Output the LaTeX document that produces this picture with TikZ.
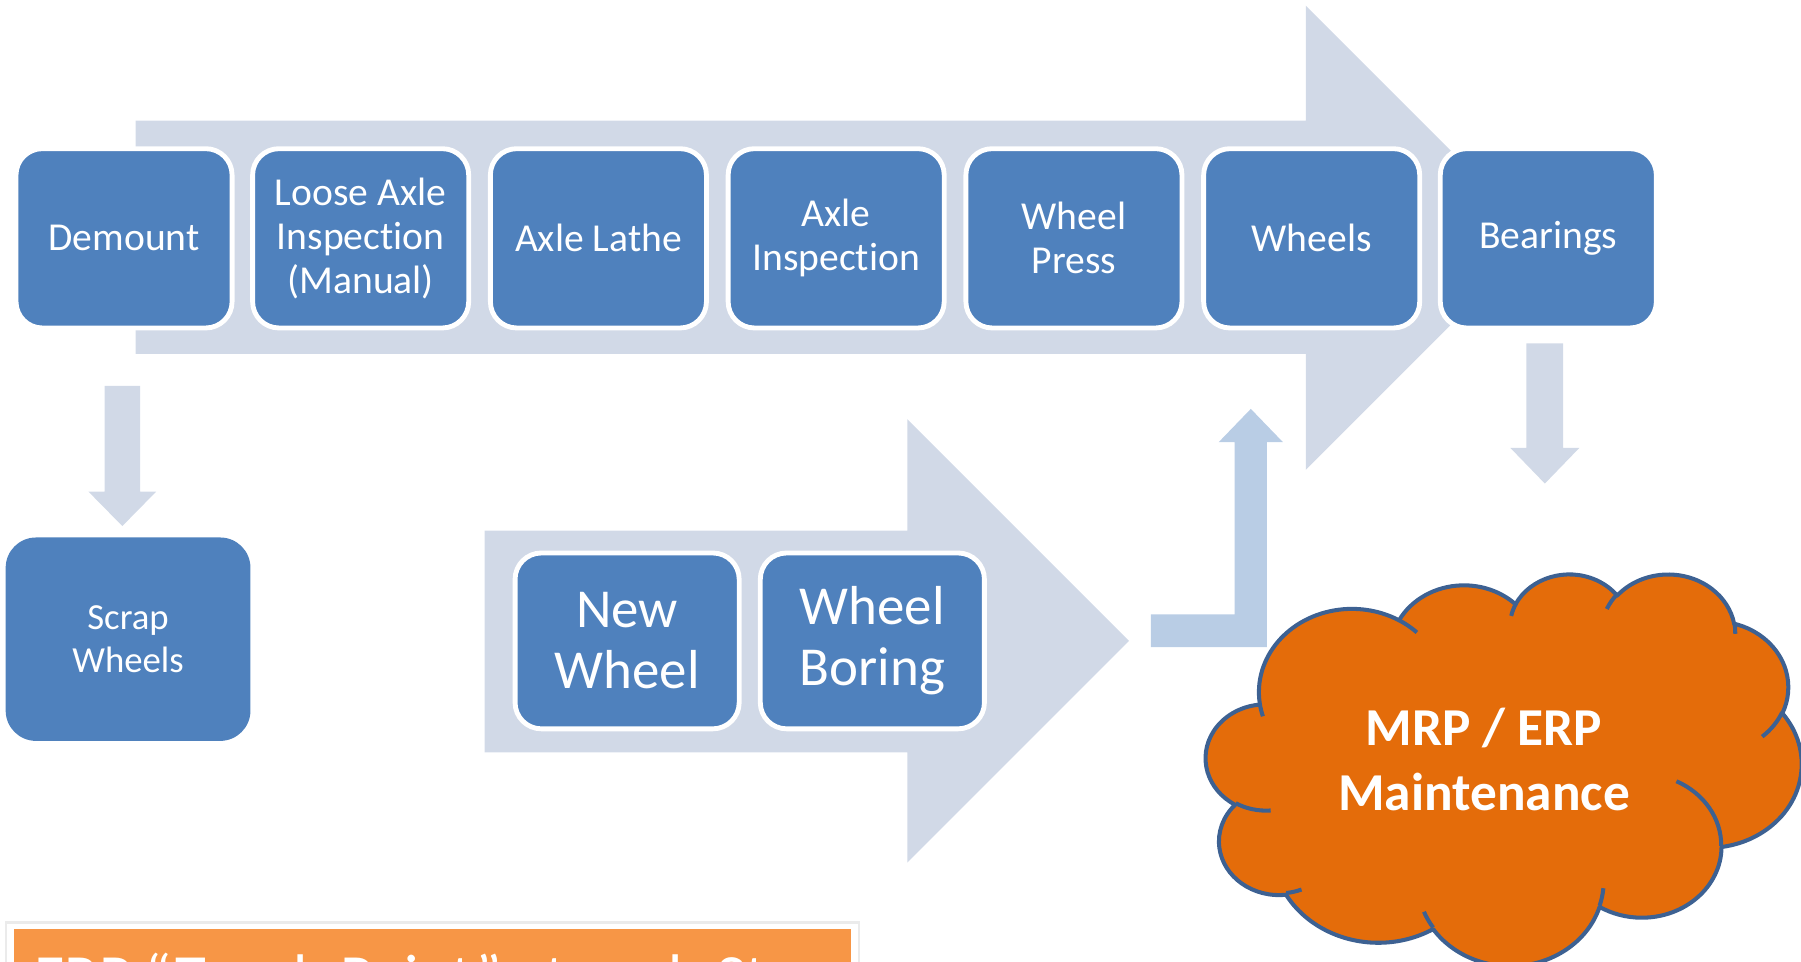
\documentclass[tikz,border=0pt]{standalone}
\usepackage{fontspec}
\setmainfont{Carlito}[Ligatures=NoCommon]
\definecolor{boxblue}{HTML}{4F81BD}
\definecolor{arrowgray}{HTML}{D1D9E7}
\definecolor{elbowblue}{HTML}{B9CDE5}
\definecolor{cloudorange}{HTML}{E46C0A}
\definecolor{cloudline}{HTML}{3D6192}
\definecolor{barorange}{HTML}{F79646}
\newcommand\cloudang[3]{(#3)+atan(((#1)-(#2))*sin(#3)*cos(#3)/((#2)*cos(#3)^2+(#1)*sin(#3)^2))}
\newcommand\carc[4]{arc[x radius=#1, y radius=#2, start angle={\cloudang{#1}{#2}{#3}}, end angle={\cloudang{#1}{#2}{#4}}]}
\begin{document}
\begin{tikzpicture}[x=0.01cm,y=-0.01cm,
  stepbox/.style={rectangle, rounded corners=6.5pt, fill=boxblue, draw=white, line width=1.2pt,
    text=white, align=center, inner sep=0pt, minimum width=1.88cm, minimum height=1.56cm,
    font=\fontsize{9.8}{10.9}\selectfont},
  bigbox/.style={stepbox, minimum width=1.95cm, minimum height=1.53cm,
    font=\fontsize{13.6}{15.1}\selectfont},
  blockarrow/.style={fill=arrowgray, draw=none},
  cloudshape/.style={fill=cloudorange, draw=cloudline, line width=1pt, line join=round},
  cloudinner/.style={draw=cloudline, line width=1pt}]
\useasboundingbox (0,0) rectangle (1568,837);
\clip (0,0) rectangle (1568,837);
% big top arrow
\fill[blockarrow] (118,105) -- (1137,105) -- (1137,5) -- (1339,207) -- (1137,409) -- (1137,308) -- (118,308) -- cycle;
% middle arrow
\fill[blockarrow] (422,462) -- (790,462) -- (790,365) -- (983,558) -- (790,751) -- (790,655) -- (422,655) -- cycle;
% top row
\node[stepbox] (demount) at (108,207.5) {Demount};
\node[stepbox] (loose) at (314,207.5) {Loose Axle\\Inspection\\(Manual)};
\node[stepbox] (lathe) at (521,207.5) {Axle Lathe};
\node[stepbox] (axleinsp) at (728,207.5) {Axle\\Inspection};
\node[stepbox] (press) at (935,207.5) {Wheel\\Press};
\node[stepbox] (wheels) at (1142,207.5) {Wheels};
\node[stepbox] (bearings) at (1348,207.5) {Bearings};
% down arrows
\fill[blockarrow] (91,336) -- (122,336) -- (122,428) -- (136,428) -- (106.5,458) -- (77,428) -- (91,428) -- cycle;
\fill[blockarrow] (1329,299) -- (1361,299) -- (1361,390) -- (1375,390) -- (1345,421) -- (1315,390) -- (1329,390) -- cycle;
% scrap wheels
\node[stepbox, draw=none, minimum width=2.13cm, minimum height=1.77cm, rounded corners=7.5pt,
  font=\fontsize{9.1}{10.8}\selectfont] (scrap) at (111.5,556.5) {Scrap\\Wheels};
% middle boxes
\node[bigbox] (newwheel) at (546,558) {New\\Wheel};
\node[bigbox] (boring) at (759.5,558) {Wheel\\Boring};
% elbow arrow
\fill[elbowblue] (1002,535) -- (1075,535) -- (1075,385) -- (1061,385) -- (1089,356) -- (1117,385) -- (1103,385) -- (1103,563.5) -- (1002,563.5) -- cycle;
% cloud
\begin{scope}[shift={(1050,499)}, x=0.0119907cm, y=-0.0078935cm]
\draw[cloudshape] (39.00,143.70)
  \carc{67.53}{91.90}{-190.48748}{-66.70695}
  \carc{53.33}{72.67}{-144.10238}{-54.15715}
  \carc{43.65}{59.45}{-145.80792}{-46.08490}
  \carc{48.57}{65.95}{-130.98607}{-13.74434}
  \carc{53.33}{72.73}{-78.70888}{30.31804}
  \carc{67.75}{92.20}{-46.26725}{84.00175}
  \carc{57.85}{78.67}{0.62502}{114.65835}
  \carc{67.52}{92.15}{22.45160}{137.62415}
  \carc{77.20}{105.43}{66.24263}{141.95365}
  \carc{43.60}{59.18}{-274.94208}{-128.20651}
  \carc{43.45}{59.45}{-246.82850}{-94.30965}
  -- cycle;
\draw[cloudinner]
  (46.93,261.77) \carc{43.45}{59.45}{86.74200}{113.17150}
  (69.28,348.99) \carc{43.60}{59.18}{73.61047}{85.05794}
  (164.78,390.90) \carc{67.52}{92.15}{137.62415}{151.70525}
  (288.27,347.51) \carc{67.52}{92.15}{6.45327}{22.45162}
  (341.29,229.54) \carc{57.85}{78.67}{-70.29235}{0.62502}
  (417.98,153.54) \carc{53.33}{72.73}{30.31803}{58.06953}
  (383.24,54.26) \carc{48.57}{65.95}{-13.74433}{1.11457}
  (290.78,39.52) \carc{48.57}{65.95}{-149.18145}{-130.98608}
  (221.41,47.20) \carc{43.65}{59.45}{-163.49427}{-145.80792}
  (140.00,51.92) \carc{67.53}{91.90}{-66.70695}{-54.38760}
  (41.27,157.89) \carc{67.53}{91.90}{157.65435}{169.51252};
\end{scope}
\node[text=white, align=center, font=\bfseries\fontsize{13.2}{16.2}\selectfont] (mrp) at (1292,661) {MRP / ERP\\Maintenance};
% bottom bar
\draw[draw=black!8, fill=white, line width=0.6pt] (5,803) rectangle (748,900);
\fill[barorange] (12,809) rectangle (741,900);
\node[anchor=base west, inner sep=0pt, text=white, font=\fontsize{15.6}{18}\selectfont] (erp) at (29,869) {ERP “Touch Point” at each Step};
\end{tikzpicture}
\end{document}
